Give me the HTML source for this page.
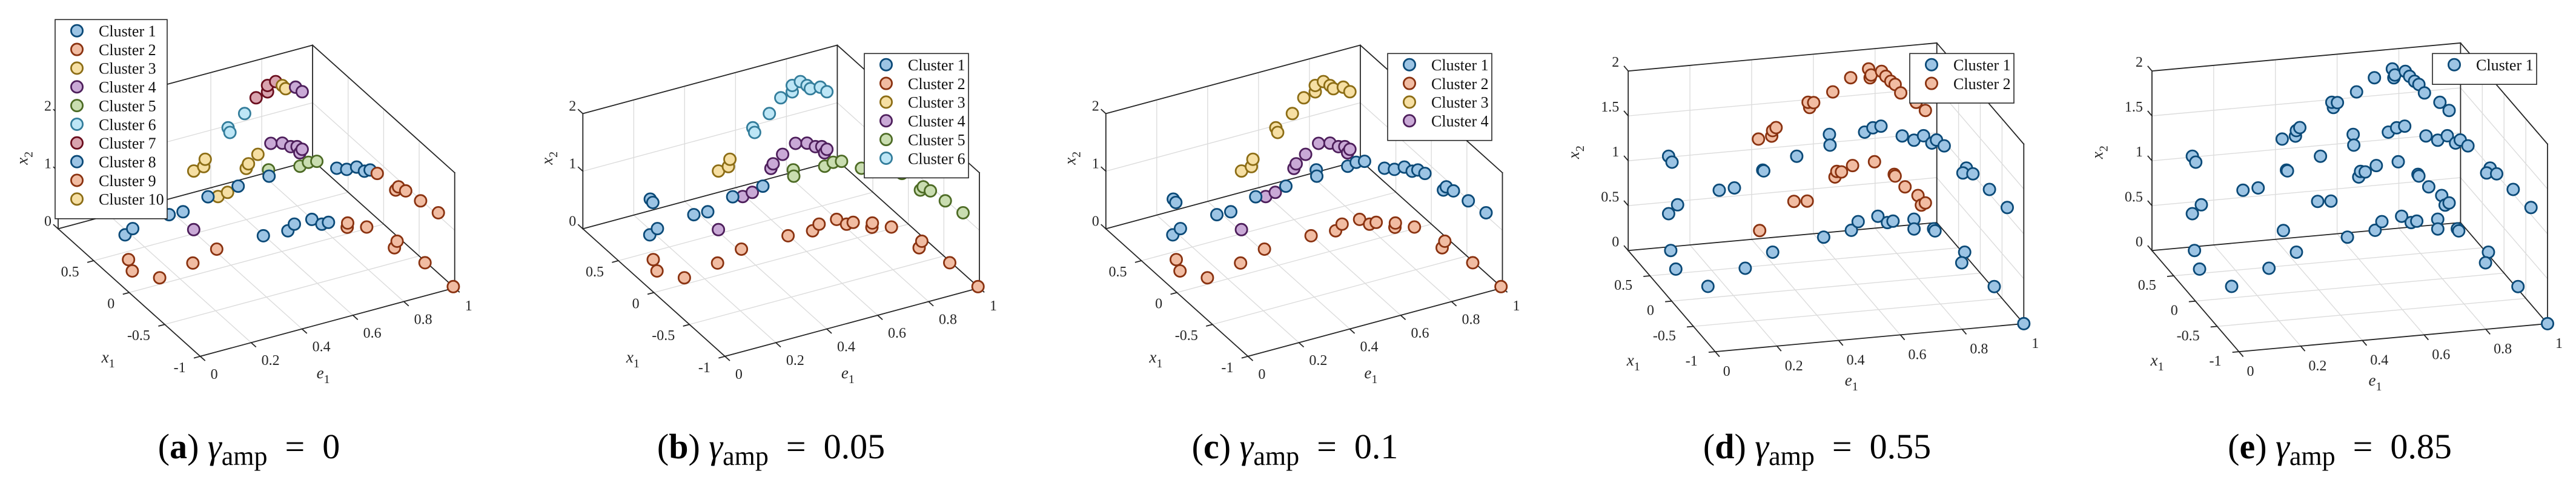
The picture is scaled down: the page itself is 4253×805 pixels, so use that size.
<!DOCTYPE html>
<html><head><meta charset="utf-8">
<style>
html,body{margin:0;padding:0;background:#fff;}
svg{display:block;font-family:"Liberation Serif",serif;}
</style></head>
<body>
<svg id="fig" width="4253" height="805" viewBox="0 0 4253 805" xmlns="http://www.w3.org/2000/svg">
<rect x="0" y="0" width="4253" height="805" fill="#fff"/>
</svg>
<script>
// ---------- data: view A (panels a, b, c) ----------
const viewA_e1 = [0.533,0.572,0.578,0.668,0.675,0.733,0.778,0.823,0.823,0.855,0.881,0.894,0.933,0.959,
 0.407,0.592,0.635,0.739,0.748,0.785,0.836,0.881,0.914,0.939,0.950,0.959,
 0.265,0.275,0.182,0.226,0.383,0.435,0.561,0.688,0.827,0.815,0.942,0.981,1,1,1,1,1,1,1,1,1,1,1,1,
 0.109,0.082,0.142,0.292,0.411,0.597,0.688,0.730,0.799,0.813,0.839,0.879,0.895,0.939,0.953,0.983,0.995,1.0];
const viewA_x1 = [1,1,1,1,1,1,1,1,1,1,1,1,1,1,
 0.55,0.87,0.89,1,1,1,1,1,1,1,1,1,
 1,1,0.71,0.76,0.81,0.80,0.90,0.93,1,0.95,0.97,0.99,0.94,0.66,0.52,0.38,0.27,0.19,0.09,-0.17,-0.21,-0.31,-0.52,-0.77,
 0.40,0.25,0.08,0.15,0.24,0.25,0.23,0.29,0.29,0.20,0.20,0.08,0.13,0.02,-0.32,-0.25,-0.60,-0.98];
const viewA_x2 = [0.37,0.40,0.52,0.96,0.87,1.13,1.35,1.40,1.51,1.54,1.44,1.37,1.35,1.24,
 0,0,0,0.17,0.24,0.36,0.49,0.44,0.34,0.31,0.19,0.24,
 0.20,0.13,0,0,0,0,0,0,0.04,0,0,0,0.05,0.24,0.375,0.57,0.62,0.73,0.78,0.78,0.88,0.92,0.98,1.05,
 0,0,0,0,0,0,0,0,0,0,0,0,0,0,0,0,0,0];
const labelsA_a = [3,3,3,6,6,6,7,7,7,7,10,10,4,4,
 4,10,10,3,3,3,4,4,4,4,4,4,
 1,1,8,8,8,8,8,8,5,8,5,5,5,1,1,1,1,1,2,2,2,2,2,2,
 9,9,9,9,9,8,8,8,8,8,8,9,9,9,9,9,9,9];
const labelsA_b = [3,3,3,6,6,6,6,6,6,6,6,6,6,6,
 4,4,4,4,4,4,4,4,4,4,4,4,
 1,1,1,1,1,1,1,1,5,5,5,5,5,5,5,5,5,5,5,5,5,5,5,5,
 2,2,2,2,2,2,2,2,2,2,2,2,2,2,2,2,2,2];
const labelsA_c = [3,3,3,3,3,3,3,3,3,3,3,3,3,3,
 4,4,4,4,4,4,4,4,4,4,4,4,
 1,1,1,1,1,1,1,1,1,1,1,1,1,1,1,1,1,1,1,1,1,1,1,1,
 2,2,2,2,2,2,2,2,2,2,2,2,2,2,2,2,2,2];

// ---------- data: view B (panels d, e) ----------
const viewB_e1 = [0.131,0.142,0.131,0.160,0.128,0.095,0.147,0.306,0.430,0.295,0.344,0.436,0.439,0.546,
 0.622,0.652,0.654,0.723,0.745,0.766,0.793,0.819,0.809,0.840,0.858,0.888,0.926,0.957,0.984,0.999,1,
 0.926,0.915,0.974,0.973,1,1,1,1,1,1,0.971,1,1,
 0.426,0.537,0.580,0.422,0.465,0.468,0.479,0.588,0.583,0.601,0.663,0.721,0.779,0.784,0.787,0.821,0.835,0.851,0.865,0.883,0.933,0.963,
 0.670,0.676,0.691,0.727,0.798,0.862,0.865,0.897,0.939,0.950,0.963];
const viewB_x1 = [1,1,1,1,0.93,0.58,0.21,0.48,0.73,1,1,1,1,1,
 0.92,1,1,1,1,1,1,1,1,1,1,1,1,1,1,1,0.83,
 1,0.92,0.89,0.85,0.32,0.40,0.17,-0.21,-0.62,0.36,0.22,-0.32,-1,
 1,1,1,1,1,1,1,1,1,1,1,1,1,1,1,1,1,1,1,1,1,1,
 1,1,1,1,1,1,1,1,1,1,1];
const viewB_x2 = [1.01,0.94,0.37,0.46,0,0,0,0,0,0.58,0.59,0.76,0.75,0.88,
 0,1.09,0.97,0.0,0.09,1.08,1.12,1.13,0.13,0.05,0.06,1.00,0.94,0.98,0.89,0.92,0.95,
 0.06,0,0,0,0.99,0.89,1.01,1.05,1.08,0.03,0,0.03,0,
 0.09,0.38,0.37,1.11,1.13,1.19,1.22,1.41,1.47,1.46,1.56,1.70,1.78,1.68,1.71,1.74,1.68,1.62,1.58,1.48,1.36,1.26,
 0.61,0.67,0.66,0.72,0.74,0.58,0.56,0.43,0.32,0.21,0.23];
const labelsB_d = viewB_e1.map((v,i)=> i<44 ? 1 : 2);
const labelsB_e = viewB_e1.map(()=>1);

// ---------- axis ticks ----------
const e1Ticks = [0,0.2,0.4,0.6,0.8,1];
const e1TickLabels = ["0","0.2","0.4","0.6","0.8","1"];
const x1Ticks = [-1,-0.5,0,0.5];
const x1TickLabels = ["-1","-0.5","0","0.5"];
const x2TicksA = [0,1,2];
const x2TickLabelsA = ["0","1","2"];
const x2TicksB = [0,0.5,1,1.5,2];
const x2TickLabelsB = ["0","0.5","1","1.5","2"];
const legendCountA = 10;

// ---------- styles ----------
const FILL = {1:"#9cc4e4",2:"#f1bca2",3:"#f6dfa3",4:"#c9a9d6",5:"#c9ddb0",6:"#bde6f6",7:"#d9a3ae",8:"#9cc4e4",9:"#f1bca2",10:"#f6dfa3"};
const EDGE = {1:"#0b4a78",2:"#8a3210",3:"#8c6d15",4:"#4e1f5c",5:"#4d6b25",6:"#337d9b",7:"#6b0e1e",8:"#0b4a78",9:"#8a3210",10:"#8c6d15"};

const NS="http://www.w3.org/2000/svg";
const svg=document.getElementById('fig');
function mk(tag,attrs,parent){const el=document.createElementNS(NS,tag);for(const k in attrs)el.setAttribute(k,attrs[k]);(parent||svg).appendChild(el);return el;}

const VIEWS={
 A:{ev:[420.1,-112.9],xv:[-117.3,-105.2],zv:-95.0,zmax:2,zt:x2TicksA,zl:x2TickLabelsA,
    eOff:[17,37],xOff:[-24,26],zOff:[-11,-5],eLab:[192,36],xLab:[-163,10],zLab:[-285,-316]},
 B:{ev:[509.5,-46.2],xv:[-71.8,-83.4],zv:-148.1,zmax:2,zt:x2TicksB,zl:x2TickLabelsB,
    eOff:[13,40],xOff:[-29,23],zOff:[-15,-7],eLab:[214,56],xLab:[-146,23],zLab:[-225,-318]}
};

function drawPanel(id,view,O,E,X,Z,labels,legend,caption){
 const V=VIEWS[view];
 const g=mk('g',{});
 
 
 const P=(e,x,z)=>[O[0]+e*V.ev[0]+(x+1)*V.xv[0], O[1]+e*V.ev[1]+(x+1)*V.xv[1]+z*V.zv];
 const line=(a,b,col,w,name)=>{const l=mk('line',{x1:a[0],y1:a[1],x2:b[0],y2:b[1],stroke:col,'stroke-width':w,'stroke-linecap':'square'},g);
   
   return l;};
 const GC="#dcdcdc", GW=1.4, BC="#262626", BW=1.8;
 const zIn=V.zt.filter(z=>z>0&&z<V.zmax);
 const eIn=e1Ticks.filter(e=>e>0&&e<1);
 const xIn=x1Ticks.filter(x=>x>-1&&x<1);
 eIn.forEach(e=>{line(P(e,1,0),P(e,1,V.zmax),GC,GW,'grid-back-e');line(P(e,-1,0),P(e,1,0),GC,GW,'grid-floor-e');});
 zIn.forEach(z=>{line(P(0,1,z),P(1,1,z),GC,GW,'grid-back-z');line(P(1,-1,z),P(1,1,z),GC,GW,'grid-side-z');});
 xIn.forEach(x=>{line(P(0,x,0),P(1,x,0),GC,GW,'grid-floor-x1');line(P(1,x,0),P(1,x,V.zmax),GC,GW,'grid-side-x1');});
 line(P(0,1,0),P(1,1,0),BC,BW,'box-back-floor');
 line(P(0,1,V.zmax),P(1,1,V.zmax),BC,BW,'box-back-top');
 line(P(0,1,0),P(0,1,V.zmax),BC,BW,'x2-axis');
 line(P(1,1,0),P(1,1,V.zmax),BC,BW,'box-back-right');
 line(P(1,1,V.zmax),P(1,-1,V.zmax),BC,BW,'box-side-top');
 line(P(1,-1,0),P(1,-1,V.zmax),BC,BW,'box-front-right');
 line(P(1,-1,0),P(1,1,0),BC,BW,'box-side-floor');
 line(P(0,-1,0),P(1,-1,0),BC,BW,'e1-axis');
 line(P(0,-1,0),P(0,1,0),BC,BW,'x1-axis');
 const nrm=v=>{const l=Math.hypot(v[0],v[1]);return [v[0]/l*10,v[1]/l*10];};
 const dx=nrm(V.xv), de=nrm(V.ev);
 const txt=(s,x,y,anchor,size,name)=>{const t=mk('text',{x:x,y:y,'text-anchor':anchor,'font-size':size,fill:'#262626'},g);t.textContent=s;
   
   return t;};
 e1Ticks.forEach((e,i)=>{const p=P(e,-1,0);line(p,[p[0]-dx[0],p[1]-dx[1]],BC,BW,'e1-tick');
   txt(e1TickLabels[i],p[0]+V.eOff[0],p[1]+V.eOff[1],'start',24,'e1-tick-label');});
 x1Ticks.forEach((x,i)=>{const p=P(0,x,0);line(p,[p[0]-de[0],p[1]-de[1]],BC,BW,'x1-tick');
   txt(x1TickLabels[i],p[0]+V.xOff[0],p[1]+V.xOff[1],'end',24,'x1-tick-label');});
 V.zt.forEach((z,i)=>{const p=P(0,1,z);line(p,[p[0]+dx[0],p[1]+dx[1]],BC,BW,'x2-tick');
   txt(V.zl[i],p[0]+V.zOff[0],p[1]+V.zOff[1],'end',24,'x2-tick-label');});
 const axT=(v,sub,x,y,rot,name)=>{const t=mk('text',{x:x,y:y,'font-size':27,fill:'#262626','font-style':'italic'},g);
   if(rot)t.setAttribute('transform','rotate(-90 '+x+' '+y+')');
   t.appendChild(document.createTextNode(v));
   const s=mk('tspan',{'font-size':20,'font-style':'normal',dy:8},t);s.textContent=sub;
   
   };
 axT('e','1',O[0]+V.eLab[0],O[1]+V.eLab[1],false,'e1-axis-title');
 axT('x','1',O[0]+V.xLab[0],O[1]+V.xLab[1],false,'x1-axis-title');
 axT('x','2',O[0]+V.zLab[0],O[1]+V.zLab[1],true,'x2-axis-title');
 for(let i=0;i<E.length;i++){
   const p=P(E[i],X[i],Z[i]);const c=labels[i];
   const m=mk('circle',{cx:p[0].toFixed(1),cy:p[1].toFixed(1),r:9.6,fill:FILL[c],stroke:EDGE[c],'stroke-width':2.8},g);
   
   
 }
 const lg=mk('g',{},g);
 
 
 const n=legend.count, L=legend;
 mk('rect',{x:L.x,y:L.y,width:L.w,height:20+n*30.85,fill:'#fff',stroke:'#262626','stroke-width':1.6},lg);
 for(let k=1;k<=n;k++){
   const cy=L.y+18.4+(k-1)*30.85;
   const m=mk('circle',{cx:L.x+36,cy:cy,r:9.6,fill:FILL[k],stroke:EDGE[k],'stroke-width':2.8},lg);
   
   
   const t=mk('text',{x:L.x+72,y:cy+9.3,'font-size':26,fill:'#111'},lg);t.textContent='Cluster '+k;
   
   
 }
 const ct=mk('text',{x:caption.cx,y:756,'text-anchor':'middle','font-size':58,fill:'#000'},g);
 
 
 const add=(s,attrs)=>{const sp=mk('tspan',attrs||{},ct);sp.textContent=s;return sp;};
 add('(');add(id,{'font-weight':'bold'});add(') ');
 add('\u03B3',{'font-style':'italic'});
 add('amp',{'font-size':44,dy:11});
 add('\u2002=\u2002'+caption.val,{dy:-11});
}

drawPanel('a','A',[330.6,587.8],viewA_e1,viewA_x1,viewA_x2,labelsA_a,{x:91,y:32.3,w:185,count:legendCountA},{cx:411,val:'0'});
drawPanel('b','A',[1196.9,587.8],viewA_e1,viewA_x1,viewA_x2,labelsA_b,{x:1427,y:88.3,w:172,count:6},{cx:1273,val:'0.05'});
drawPanel('c','A',[2060.4,587.8],viewA_e1,viewA_x1,viewA_x2,labelsA_c,{x:2291,y:88.3,w:172,count:4},{cx:2138,val:'0.1'});
drawPanel('d','B',[2831.8,580.1],viewB_e1,viewB_x1,viewB_x2,labelsB_d,{x:3153,y:88.3,w:172,count:2},{cx:3000,val:'0.55'});
drawPanel('e','B',[3696.5,580.1],viewB_e1,viewB_x1,viewB_x2,labelsB_e,{x:4016,y:88.3,w:172,count:1},{cx:3863,val:'0.85'});
</script>
</body></html>
